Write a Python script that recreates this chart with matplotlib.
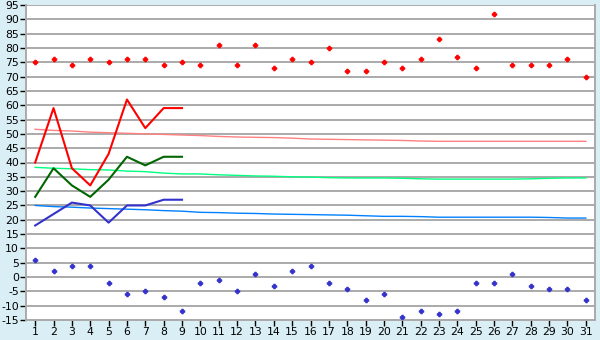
import matplotlib
matplotlib.use('Agg')
import matplotlib.pyplot as plt

plt.rcParams['axes.unicode_minus'] = False

days = list(range(1, 32))

# record highs / lows per day (scatter points)
high_pts = [75, 76, 74, 76, 75, 76, 76, 74, 75, 74, 81, 74, 81, 73, 76, 75,
            80, 72, 72, 75, 73, 76, 83, 77, 73, 92, 74, 74, 74, 76, 70]
low_pts = [6, 2, 4, 4, -2, -6, -5, -7, -12, -2, -1, -5, 1, -3, 2, 4,
           -2, -4, -8, -6, -14, -12, -13, -12, -2, -2, 1, -3, -4, -4, -8]

# current month (first 9 days)
cur_days = list(range(1, 10))
cur_high = [40, 59, 38, 32, 43, 62, 52, 59, 59]
cur_mean = [28, 38, 32, 28, 34, 42, 39, 42, 42]
cur_low = [18, 22, 26, 25, 19, 25, 25, 27, 27]

# long-term averages
avg_high = [51.6, 51.2, 51.0, 50.6, 50.4, 50.2, 50.0, 49.8, 49.6, 49.4, 49.1,
            48.9, 48.8, 48.7, 48.5, 48.2, 48.1, 48.0, 47.9, 47.8, 47.7, 47.5,
            47.4, 47.4, 47.4, 47.4, 47.4, 47.4, 47.4, 47.4, 47.4]
avg_mean = [38.3, 38.0, 37.8, 37.5, 37.4, 37.0, 36.8, 36.3, 36.0, 36.0, 35.7,
            35.5, 35.3, 35.2, 35.0, 34.9, 34.7, 34.6, 34.6, 34.6, 34.5, 34.3,
            34.2, 34.2, 34.2, 34.2, 34.2, 34.3, 34.5, 34.6, 34.6]
avg_low = [25.0, 24.6, 24.4, 24.1, 23.9, 23.7, 23.5, 23.2, 23.0, 22.6, 22.5,
           22.3, 22.2, 22.0, 21.9, 21.8, 21.7, 21.6, 21.4, 21.2, 21.2, 21.1,
           20.9, 20.9, 20.9, 20.9, 20.9, 20.9, 20.8, 20.6, 20.6]

bg = '#d9eef5'
fig = plt.figure(figsize=(6, 3.4), dpi=100, facecolor=bg)
ax = fig.add_axes([26 / 600, 1 - 320 / 340, 569 / 600, 315 / 340])
ax.set_facecolor('white')

for y in range(-15, 96, 5):
    ax.axhline(y, color='#aaaaaa', lw=1.4, zorder=0)

ax.plot(days, avg_high, color='#ff8080', lw=1.0, zorder=2)
ax.plot(days, avg_mean, color='#00ff80', lw=1.0, zorder=2)
ax.plot(days, avg_low, color='#0080ff', lw=1.0, zorder=2)

ax.plot(cur_days, cur_high, color='#ff0000', lw=1.5, zorder=3)
ax.plot(cur_days, cur_mean, color='#006600', lw=1.5, zorder=3)
ax.plot(cur_days, cur_low, color='#3333cc', lw=1.5, zorder=3)

ax.plot(days, high_pts, linestyle='none', marker='P', ms=3.2, mew=0.8, color='#ff0000', zorder=4)
ax.plot(days, low_pts, linestyle='none', marker='P', ms=3.2, mew=0.8, color='#3333cc', zorder=4)

ax.set_xlim(0.5, 31.5)
ax.set_ylim(-15, 95)
ax.set_xticks(days)
ax.set_yticks(range(-15, 96, 5))
ax.tick_params(axis='both', labelsize=7.8, length=4, width=1, color='black', pad=1)
for s in ax.spines.values():
    s.set_color('#aaaaaa')
    s.set_linewidth(1.4)
ax.spines['top'].set_visible(False)

fig.savefig('out.png', dpi=100, facecolor=bg)
